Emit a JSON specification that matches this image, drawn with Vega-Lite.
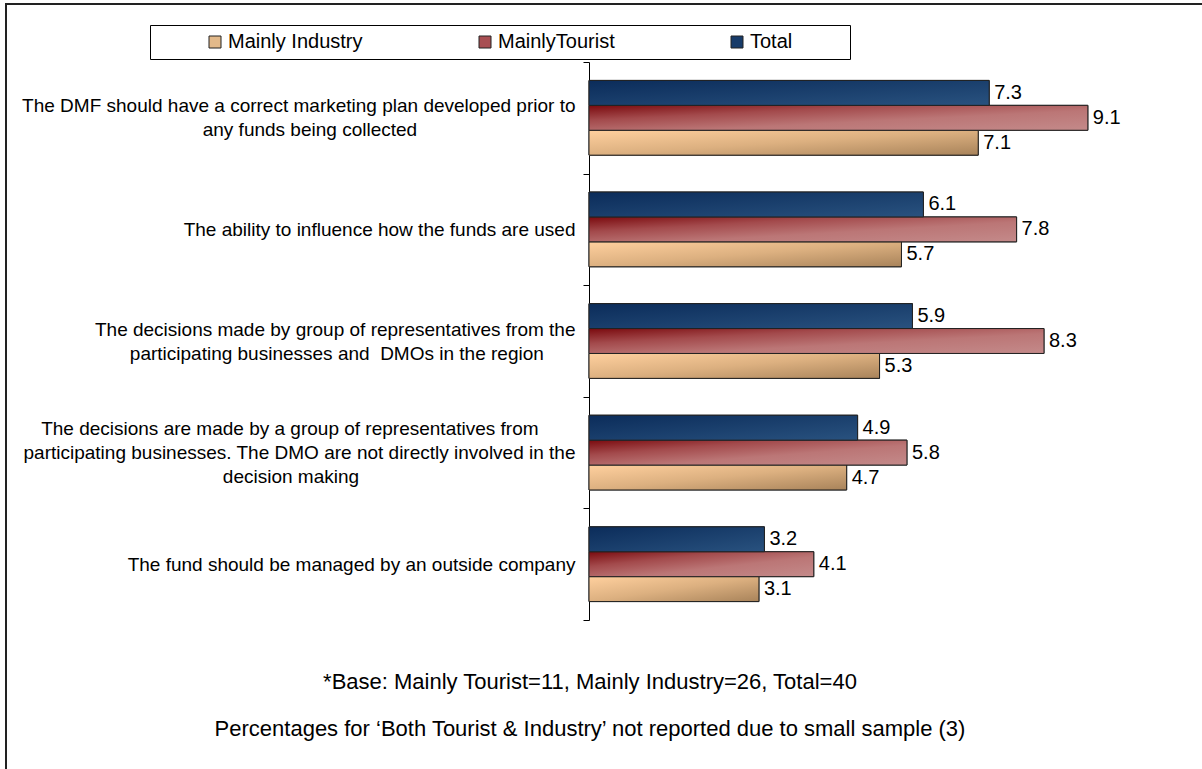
{
  "$schema": "https://vega.github.io/schema/vega-lite/v6.json",
  "width": 1200,
  "height": 769,
  "autosize": {"type": "none"},
  "padding": {"left": 6, "top": 4, "right": -4, "bottom": -4},
  "background": "white",
  "config": {"view": {"stroke": "#222", "strokeWidth": 2}, "font": "Liberation Sans"},
  "title": {
    "text": ["*Base: Mainly Tourist=11, Mainly Industry=26, Total=40", "Percentages for ‘Both Tourist & Industry’ not reported due to small sample (3)"],
    "orient": "bottom", "anchor": "middle", "frame": "group", "offset": -101, "dx": -16,
    "fontSize": 22, "fontWeight": "normal", "color": "#000", "lineHeight": 47, "font": "Liberation Sans"
  },
  "data": {"values": [
    {"q": "The DMF should have a correct marketing plan developed prior to|any funds being collected", "series": "Total", "value": 7.3},
    {"q": "The DMF should have a correct marketing plan developed prior to|any funds being collected", "series": "MainlyTourist", "value": 9.1},
    {"q": "The DMF should have a correct marketing plan developed prior to|any funds being collected", "series": "Mainly Industry", "value": 7.1},
    {"q": "The ability to influence how the funds are used", "series": "Total", "value": 6.1},
    {"q": "The ability to influence how the funds are used", "series": "MainlyTourist", "value": 7.8},
    {"q": "The ability to influence how the funds are used", "series": "Mainly Industry", "value": 5.7},
    {"q": "The decisions made by group of representatives from the|participating businesses and  DMOs in the region", "series": "Total", "value": 5.9},
    {"q": "The decisions made by group of representatives from the|participating businesses and  DMOs in the region", "series": "MainlyTourist", "value": 8.3},
    {"q": "The decisions made by group of representatives from the|participating businesses and  DMOs in the region", "series": "Mainly Industry", "value": 5.3},
    {"q": "The decisions are made by a group of representatives from|participating businesses. The DMO are not directly involved in the|decision making", "series": "Total", "value": 4.9},
    {"q": "The decisions are made by a group of representatives from|participating businesses. The DMO are not directly involved in the|decision making", "series": "MainlyTourist", "value": 5.8},
    {"q": "The decisions are made by a group of representatives from|participating businesses. The DMO are not directly involved in the|decision making", "series": "Mainly Industry", "value": 4.7},
    {"q": "The fund should be managed by an outside company", "series": "Total", "value": 3.2},
    {"q": "The fund should be managed by an outside company", "series": "MainlyTourist", "value": 4.1},
    {"q": "The fund should be managed by an outside company", "series": "Mainly Industry", "value": 3.1}
  ]},
  "encoding": {
    "y": {
      "field": "q", "type": "nominal", "sort": null,
      "scale": {"range": [58, 616], "paddingInner": 0, "paddingOuter": 0},
      "axis": {
        "title": null, "orient": "left", "offset": -583, "tickBand": "extent", "tickSize": 6,
        "tickColor": "#000", "domainColor": "#000", "tickWidth": 1, "domainWidth": 1,
        "labelFontSize": 19, "labelColor": "#000", "labelFont": "Liberation Sans",
        "labelPadding": 8, "labelLimit": 0, "labelLineHeight": 24, "labelOverlap": false,
        "labelAlign": "right", "labelBaseline": "middle", "grid": false,
        "labelOffset": {"condition": [{"test": "length(split(datum.value,'|'))==3", "value": -24}, {"test": "length(split(datum.value,'|'))==2", "value": -12}], "value": 0},
        "labelExpr": "length(split(datum.label,'|'))==1 ? datum.label : length(split(datum.label,'|'))==2 ? [pad(split(replace(datum.label,'  ',' \\u00a0'),'|')[0], length(split(replace(datum.label,'  ',' \\u00a0'),'|')[0]) + round(0.8*(max(length(split(replace(datum.label,'  ',' \\u00a0'),'|')[0]), length(split(replace(datum.label,'  ',' \\u00a0'),'|')[1])) - length(split(replace(datum.label,'  ',' \\u00a0'),'|')[0]))), '\\u00a0') + '\\u200b', pad(split(replace(datum.label,'  ',' \\u00a0'),'|')[1], length(split(replace(datum.label,'  ',' \\u00a0'),'|')[1]) + round(0.8*(max(length(split(replace(datum.label,'  ',' \\u00a0'),'|')[0]), length(split(replace(datum.label,'  ',' \\u00a0'),'|')[1])) - length(split(replace(datum.label,'  ',' \\u00a0'),'|')[1]))), '\\u00a0') + '\\u200b'] : [pad(split(datum.label,'|')[0], length(split(datum.label,'|')[0]) + round(0.8*(max(length(split(datum.label,'|')[0]), length(split(datum.label,'|')[1]), length(split(datum.label,'|')[2])) - length(split(datum.label,'|')[0]))), '\\u00a0') + '\\u200b', pad(split(datum.label,'|')[1], length(split(datum.label,'|')[1]) + round(0.8*(max(length(split(datum.label,'|')[0]), length(split(datum.label,'|')[1]), length(split(datum.label,'|')[2])) - length(split(datum.label,'|')[1]))), '\\u00a0') + '\\u200b', pad(split(datum.label,'|')[2], length(split(datum.label,'|')[2]) + round(0.8*(max(length(split(datum.label,'|')[0]), length(split(datum.label,'|')[1]), length(split(datum.label,'|')[2])) - length(split(datum.label,'|')[2]))), '\\u00a0') + '\\u200b']"
      }
    },
    "yOffset": {
      "field": "series", "type": "nominal",
      "sort": ["Total", "MainlyTourist", "Mainly Industry"],
      "scale": {"domain": ["Total", "MainlyTourist", "Mainly Industry"], "paddingOuter": 0.74, "paddingInner": 0}
    },
    "x": {
      "field": "value", "type": "quantitative",
      "scale": {"domain": [0, 11], "range": [583, 1186]},
      "axis": null
    }
  },
  "layer": [
    {
      "mark": {"type": "bar", "stroke": "#222", "strokeWidth": 1},
      "encoding": {
        "color": {
          "field": "series", "type": "nominal",
          "scale": {
            "domain": ["Mainly Industry", "MainlyTourist", "Total"],
            "range": ["#e2b98a", "#a84e52", "#173b69"]
          },
          "legend": {
            "title": null, "orient": "none", "legendX": 144, "legendY": 21, "direction": "horizontal",
            "strokeColor": "#000", "fillColor": "#fff", "padding": 7,
            "symbolType": "square", "symbolSize": 144, "symbolStrokeColor": "#222", "symbolStrokeWidth": 1, "symbolOpacity": 1,
            "symbolOffset": 48, "labelOffset": 3, "columnPadding": 64,
            "labelFontSize": 20, "labelColor": "#000", "labelFont": "Liberation Sans", "labelLimit": 0,
            "labelExpr": "datum.label == 'Total' ? 'Total\\u00a0\\u00a0\\u00a0\\u00a0\\u00a0\\u00a0\\u00a0\\u00a0\\u00a0\\u200b' : datum.label"
          }
        }
      }
    },
    {
      "transform": [{"filter": "datum.series == 'Mainly Industry'"}],
      "mark": {"type": "bar", "stroke": "#222", "strokeWidth": 1, "fill": {"gradient": "linear", "x1": 0, "y1": 0, "x2": 1, "y2": 1, "stops": [{"offset": 0, "color": "#ffd09e"}, {"offset": 0.5, "color": "#dcb080"}, {"offset": 1, "color": "#a8835a"}]}},
      "encoding": {}
    },
    {
      "transform": [{"filter": "datum.series == 'MainlyTourist'"}],
      "mark": {"type": "bar", "stroke": "#222", "strokeWidth": 1, "fill": {"gradient": "linear", "x1": 0, "y1": 0, "x2": 1, "y2": 1, "stops": [{"offset": 0, "color": "#7a0a0e"}, {"offset": 0.3, "color": "#a34a4c"}, {"offset": 0.6, "color": "#bb7676"}, {"offset": 1, "color": "#c48a8a"}]}},
      "encoding": {}
    },
    {
      "transform": [{"filter": "datum.series == 'Total'"}],
      "mark": {"type": "bar", "stroke": "#222", "strokeWidth": 1, "fill": {"gradient": "linear", "x1": 0, "y1": 0, "x2": 1, "y2": 1, "stops": [{"offset": 0, "color": "#0b2c5a"}, {"offset": 1, "color": "#29527f"}]}},
      "encoding": {}
    },
    {
      "mark": {"type": "text", "align": "left", "baseline": "middle", "dx": 5, "fontSize": 20, "color": "#000", "font": "Liberation Sans"},
      "encoding": {"text": {"field": "value", "type": "quantitative", "format": ".1f"}}
    }
  ]
}
